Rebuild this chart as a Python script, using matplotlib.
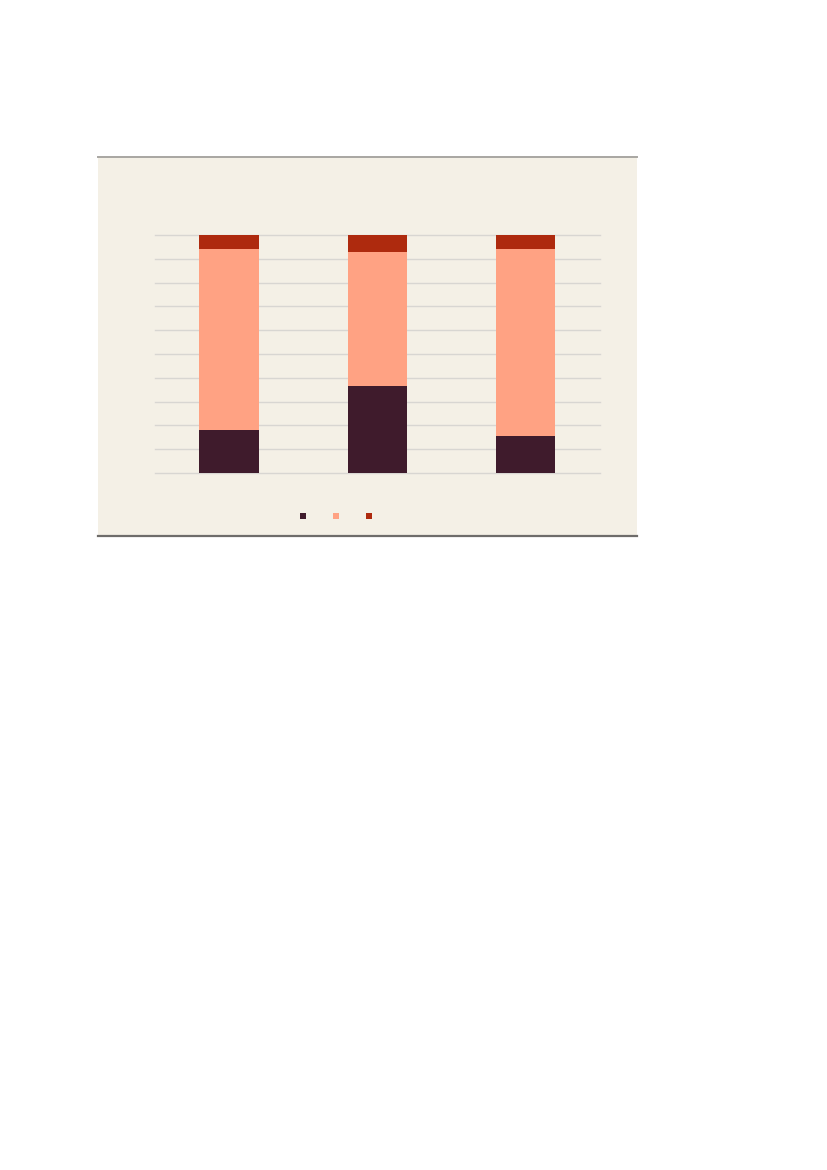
import matplotlib.pyplot as plt
from matplotlib.patches import Rectangle, Patch
from matplotlib.lines import Line2D

# three stacked bars, shares in percent (no labels shown in the source)
categories = ["A", "B", "C"]
share_dark = [18.0, 36.5, 15.6]
share_salmon = [76.0, 56.5, 78.7]
share_red = [6.0, 7.0, 5.7]

COLORS = ["#3F1B2C", "#FFA283", "#AE2A0E"]
PANEL = "#F4F0E6"

W, H = 827, 1170
fig = plt.figure(figsize=(8.27, 11.70), dpi=100)
fig.patch.set_facecolor("white")

# beige panel behind the chart
px0, px1, py0, py1 = 98, 637, 157, 536
fig.patches.append(Rectangle((px0 / W, 1 - py1 / H), (px1 - px0) / W, (py1 - py0) / H,
                             transform=fig.transFigure, facecolor=PANEL,
                             edgecolor="none", zorder=-2))
fig.lines.append(Line2D([px0 / W, px1 / W], [1 - py0 / H] * 2, transform=fig.transFigure,
                        color="#A8A6A2", lw=1.4, zorder=-1))
fig.lines.append(Line2D([px0 / W, px1 / W], [1 - py1 / H] * 2, transform=fig.transFigure,
                        color="#6E6C6A", lw=1.6, zorder=-1))

ax = fig.add_axes([155 / W, 1 - 473 / H, (600 - 155) / W, (473 - 235) / H])
ax.set_facecolor("none")
ax.set_zorder(2)

x = range(len(categories))
bottom2 = [a + b for a, b in zip(share_dark, share_salmon)]
ax.bar(x, share_dark, width=0.4, color=COLORS[0], zorder=3)
ax.bar(x, share_salmon, width=0.4, bottom=share_dark, color=COLORS[1], zorder=3)
ax.bar(x, share_red, width=0.4, bottom=bottom2, color=COLORS[2], zorder=3)

ax.set_xlim(-0.5, 2.5)
ax.set_ylim(0, 100)
ax.set_yticks(range(0, 101, 10))
ax.yaxis.grid(True, color="#D8D6D2", lw=1.0, zorder=1)
ax.set_axisbelow(True)
for gl in ax.get_ygridlines():
    gl.set_clip_on(False)
ax.tick_params(left=False, bottom=False, labelleft=False, labelbottom=False)
for s in ax.spines.values():
    s.set_visible(False)

handles = [Patch(facecolor=c) for c in COLORS]
fig.legend(handles, ["", "", ""], loc="center", ncol=3,
           bbox_to_anchor=(338 / W, 1 - 517 / H), frameon=False, fontsize=8,
           handlelength=0.55, handleheight=0.55, handletextpad=0.4,
           columnspacing=2.0)

fig.savefig("out.png", dpi=100)
